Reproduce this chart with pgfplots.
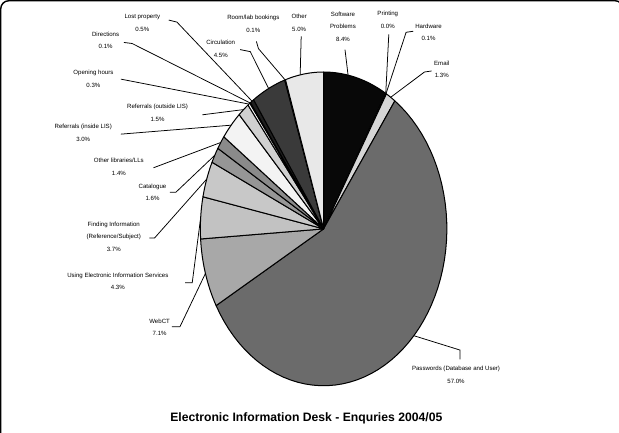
\documentclass[border=0pt]{standalone}
\usepackage{fontspec}
\setmainfont{Liberation Sans}
\usepackage{pgfplots}
\pgfplotsset{compat=1.18}
\definecolor{cPass}{HTML}{6B6B6B}
\definecolor{cWeb}{HTML}{A8A8A8}
\definecolor{cUse}{HTML}{C2C2C2}
\definecolor{cFind}{HTML}{C8C8C8}
\definecolor{cCat}{HTML}{969696}
\definecolor{cOLib}{HTML}{8A8A8A}
\definecolor{cRin}{HTML}{F3F3F3}
\definecolor{cRout}{HTML}{D0D0D0}
\definecolor{cOpen}{HTML}{FFFFFF}
\definecolor{cDir}{HTML}{555555}
\definecolor{cLost}{HTML}{1E1E1E}
\definecolor{cCirc}{HTML}{3A3A3A}
\definecolor{cRoom}{HTML}{4A4A4A}
\definecolor{cOther}{HTML}{E8E8E8}
\definecolor{cSoft}{HTML}{080808}
\definecolor{cPrint}{HTML}{FFFFFF}
\definecolor{cHard}{HTML}{FFFFFF}
\definecolor{cMail}{HTML}{D6D6D6}
\def\cum{0}
\newcommand\slice[2]{%
  \pgfmathsetmacro\sa{\cum*3.6036}%
  \pgfmathsetmacro\sb{(\cum+#1)*3.6036}%
  \pgfmathsetmacro\tmp{\cum+#1}\xdef\cum{\tmp}%
  \ifdim #1pt>0pt
  \edef\doslice{\noexpand\addplot[draw=black,line width=1pt,line join=round,fill=#2,domain=\sa:\sb,samples=60] ({329+121*sin(x)},{200+154*cos(x)}) -- (axis cs:329,200) -- cycle;}%
  \doslice
  \fi}
\newcommand\lbl{\fontsize{6}{12.5}\selectfont}
\newcommand\lab[3]{\node[align=center,font=\lbl,inner sep=0pt] at (axis cs:#1,#2) {#3};}
\begin{document}
\begin{tikzpicture}
\begin{axis}[width=619bp,height=439bp,scale only axis,hide axis,
  xmin=0,xmax=619,ymin=0,ymax=439,clip=true]
% slices, clockwise from 12 o'clock (percent)
\slice{8.4}{cSoft}   % Software Problems
\slice{0.0}{cPrint}  % Printing
\slice{0.1}{cHard}   % Hardware
\slice{1.3}{cMail}   % Email
\slice{57.0}{cPass}  % Passwords
\slice{7.1}{cWeb}    % WebCT
\slice{4.3}{cUse}    % Using EIS
\slice{3.7}{cFind}   % Finding Information
\slice{1.6}{cCat}    % Catalogue
\slice{1.4}{cOLib}   % Other libraries
\slice{3.0}{cRin}    % Referrals inside
\slice{1.5}{cRout}   % Referrals outside
\slice{0.3}{cOpen}   % Opening hours
\slice{0.1}{cDir}    % Directions
\slice{0.5}{cLost}   % Lost property
\slice{4.5}{cCirc}   % Circulation
\slice{0.1}{cRoom}   % Room/lab bookings
\slice{5.0}{cOther}  % Other
% leader lines
\pgfplotsset{every axis plot/.append style={}}
\addplot[black,line width=0.75pt,mark=none] coordinates {(177,405) (185,403) (258.7,325.4)};
\addplot[black,line width=0.75pt,mark=none] coordinates {(133,383) (141,382) (256.9,323.6)};
\addplot[black,line width=0.75pt,mark=none] coordinates {(130,347) (255.7,322.5)};
\addplot[black,line width=0.75pt,mark=none] coordinates {(210,312) (250.4,317.1)};
\addplot[black,line width=0.75pt,mark=none] coordinates {(130,293) (238.2,301.8)};
\addplot[black,line width=0.75pt,mark=none] coordinates {(162,260) (228,284.8)};
\addplot[black,line width=0.75pt,mark=none] coordinates {(178,236) (184,236) (222.2,272.3)};
\addplot[black,line width=0.75pt,mark=none] coordinates {(158,191) (163,191) (214.3,248.9)};
\addplot[black,line width=0.75pt,mark=none] coordinates {(193,147) (200,147) (208.3,210.9)};
\addplot[black,line width=0.75pt,mark=none] coordinates {(180,104) (188,104) (213,156.3)};
\addplot[black,line width=0.75pt,mark=none] coordinates {(463,72) (463,81) (418,95)};
\addplot[black,line width=0.75pt,mark=none] coordinates {(247,376) (257,374) (275,337.8)};
\addplot[black,line width=0.75pt,mark=none] coordinates {(263,384) (265,377) (291.2,346.3)};
\addplot[black,line width=0.75pt,mark=none] coordinates {(307,389) (306,351.5)};
\addplot[black,line width=0.75pt,mark=none] coordinates {(350,376) (353,351)};
\addplot[black,line width=0.75pt,mark=none] coordinates {(393,391) (390,333)};
\addplot[black,line width=0.75pt,mark=none] coordinates {(417,394) (410,393) (390.3,332.8)};
\addplot[black,line width=0.75pt,mark=none] coordinates {(435,355) (428,354) (394.9,329.2)};
% labels
\lab{151}{402.5}{Lost property\\0.5\%}
\lab{115}{385}{Directions\\0.1\%}
\lab{103}{347.5}{Opening hours\\0.3\%}
\lab{166}{314}{Referrals (outside LIS)\\1.5\%}
\lab{93}{294.5}{Referrals (inside LIS)\\3.0\%}
\lab{128}{261}{Other libraries/LLs\\1.4\%}
\lab{161}{236}{Catalogue\\1.6\%}
\lab{123}{192.5}{Finding Information\\(Reference/Subject)\\3.7\%}
\lab{127}{148.5}{Using Electronic Information Services\\4.3\%}
\lab{168}{103.5}{WebCT\\7.1\%}
\lab{459}{57}{Passwords (Database and User)\\57.0\%}
\lab{228}{377}{Circulation\\4.5\%}
\lab{260}{401.5}{Room/lab bookings\\0.1\%}
\lab{305}{402.5}{Other\\5.0\%}
\lab{348}{398.5}{Software\\Problems\\8.4\%}
\lab{392}{405}{Printing\\0.0\%}
\lab{432}{393}{Hardware\\0.1\%}
\lab{445}{356.5}{Email\\1.3\%}
% title
\node[font={\fontsize{12}{14}\selectfont\bfseries}] at (axis cs:312,14) {Electronic Information Desk - Enquries 2004/05};
% frame
\draw[black,line width=1.4pt,rounded corners=8bp] (axis cs:12,-30) rectangle (axis cs:623,424);
\end{axis}
\end{tikzpicture}
\end{document}
